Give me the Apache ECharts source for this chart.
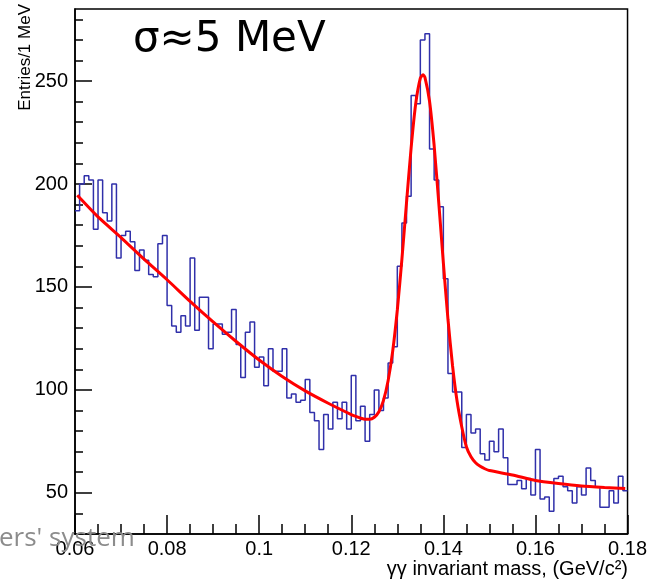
<!DOCTYPE html>
<html>
<head>
<meta charset="utf-8">
<script src="https://cdn.jsdelivr.net/npm/echarts@6/dist/echarts.min.js"></script>
<style>html,body{margin:0;padding:0;background:#fff;}#c{width:650px;height:585px;}</style>
</head>
<body>
<div id="c"></div>
<script>
// ---- data ----
const xMin = 0.06;           // GeV, left edge of first bin
const binWidth = 0.001;      // 1 MeV bins
const counts = [
  187,200,204,202,178,202,186,182,200,164,
  175,177,172,158,168,163,156,155,171,175,
  141,131,128,136,131,164,129,145,145,120,
  132,132,127,128,139,122,106,128,133,111,
  116,102,120,109,109,120, 96, 98, 94, 95,
  105, 89, 85, 71, 88, 81, 94, 86, 94, 81,
  107, 85, 92, 75, 88,100, 90, 96,113,121,
  160,181,194,243,239,270,273,217,202,189,
  154,108, 99, 99, 72, 88, 79, 81, 69, 66,
   75, 70, 81, 67, 54, 54, 56, 52, 57, 49,
   71, 47, 48, 41, 57, 58, 53, 51, 45, 53,
   49, 62, 56, 53, 43, 43, 51, 45, 58, 51
];
// fit curve (red)
const fitMass = [0.0605,0.065,0.07,0.075,0.08,0.085,0.09,0.095,0.1,0.105,0.11,0.115,
  0.12,0.121,0.122,0.123,0.124,0.125,0.126,0.127,0.128,0.129,0.13,0.131,0.132,0.133,0.134,0.135,0.1356,0.136,
  0.137,0.138,0.139,0.14,0.141,0.142,0.143,0.144,0.145,0.146,0.147,0.148,0.149,0.15,
  0.155,0.16,0.165,0.17,0.175,0.1795];
const fitValue = [194.5,184,174,163.5,153.5,143,133,123.5,114.5,106.5,99.5,93.5,
  88,87.1,86.3,85.7,85.7,86.7,89.4,94.9,104.4,118.8,138.8,163.5,190.9,217.6,239.1,251.4,253.1,251.8,
  240.2,218.7,191,161.7,134.3,111.6,94.2,82,72.4,67.5,64.6,62.9,61.7,60.8,
  58.7,56,54.5,53.3,52.6,52.1];
// axis ticks
const xTickValues = [0.06,0.08,0.10,0.12,0.14,0.16,0.18];
const xTickLabels = ['0.06','0.08','0.1','0.12','0.14','0.16','0.18'];
const xMinorValues = [0.065,0.07,0.075,0.085,0.09,0.095,0.105,0.11,0.115,0.125,0.13,0.135,0.145,0.15,0.155,0.165,0.17,0.175];
const yTickValues = [50,100,150,200,250];
const yTickLabels = ['50','100','150','200','250'];
const yMinorValues = [40,60,70,80,90,110,120,130,140,160,170,180,190,210,220,230,240,260,270,280];
const titleText = 'σ≈5 MeV';
const xTitle = 'γγ invariant mass, (GeV/c²)';
const yTitle = 'Entries/1 MeV';
const sideNote = "ers' system";

// ---- build ----
const histData = counts.map((v, i) => [xMin + i * binWidth, v]);
histData.push([xMin + counts.length * binWidth, counts[counts.length - 1]]);
const fitData = fitMass.map((m, i) => [m, fitValue[i]]);

const chart = echarts.init(document.getElementById('c'), null, {renderer: 'canvas'});
const fontFam = 'Liberation Sans, Arial, sans-serif';
const xLabelFmt = v => { const i = xTickValues.findIndex(t => Math.abs(t - v) < 1e-9); return i >= 0 ? xTickLabels[i] : ''; };
const yLabelFmt = v => { const i = yTickValues.findIndex(t => Math.abs(t - v) < 1e-9); return i >= 0 ? yTickLabels[i] : ''; };

chart.setOption({
  animation: false,
  backgroundColor: '#ffffff',
  grid: {left: 75, right: 21, top: 9, bottom: 51, show: true, borderColor: '#000', borderWidth: 1.5, backgroundColor: 'transparent'},
  xAxis: [
    {type: 'value', min: 0.06, max: 0.18, position: 'bottom',
     axisLine: {show: true, lineStyle: {color: '#000', width: 1.5}},
     axisTick: {show: true, inside: true, length: 19, customValues: xTickValues, lineStyle: {color: '#000', width: 1.5}},
     axisLabel: {customValues: xTickValues, formatter: xLabelFmt, color: '#000', fontSize: 20, fontFamily: fontFam, margin: 5, showMinLabel: true, showMaxLabel: true},
     splitLine: {show: false}},
    {type: 'value', min: 0.06, max: 0.18, position: 'bottom',
     axisLine: {show: false},
     axisTick: {show: true, inside: true, length: 10, customValues: xMinorValues, lineStyle: {color: '#000', width: 1.5}},
     axisLabel: {show: false}, splitLine: {show: false}}
  ],
  yAxis: [
    {type: 'value', min: 30, max: 285, position: 'left',
     axisLine: {show: true, lineStyle: {color: '#000', width: 1.5}},
     axisTick: {show: true, inside: true, length: 17, customValues: yTickValues, lineStyle: {color: '#000', width: 1.5}},
     axisLabel: {customValues: yTickValues, formatter: yLabelFmt, color: '#000', fontSize: 20, fontFamily: fontFam, margin: 7},
     splitLine: {show: false}},
    {type: 'value', min: 30, max: 285, position: 'left',
     axisLine: {show: false},
     axisTick: {show: true, inside: true, length: 8, customValues: yMinorValues, lineStyle: {color: '#000', width: 1.5}},
     axisLabel: {show: false}, splitLine: {show: false}}
  ],
  series: [
    {type: 'line', name: 'data', xAxisIndex: 0, yAxisIndex: 0, step: 'end', data: histData,
     symbol: 'none', lineStyle: {color: '#3030aa', width: 1.5}, z: 3},
    {type: 'line', name: 'fit', xAxisIndex: 0, yAxisIndex: 0, data: fitData, smooth: 0.2,
     symbol: 'none', lineStyle: {color: '#ff0000', width: 3}, z: 4}
  ],
  graphic: [
    {type: 'text', left: 133, top: 19, z: 10,
     style: {text: titleText, fontSize: 42, fontFamily: 'DejaVu Sans, sans-serif', fill: '#000'}},
    {type: 'text', x: 17, y: 4, rotation: Math.PI / 2, z: 10,
     style: {text: yTitle, fontSize: 17, fontFamily: fontFam, fill: '#000', align: 'right', verticalAlign: 'top'}},
    {type: 'text', x: 628, y: 559, z: 10,
     style: {text: xTitle, fontSize: 20, fontFamily: fontFam, fill: '#000', align: 'right', verticalAlign: 'top'}},
    {type: 'text', x: -1, y: 526, z: 1,
     style: {text: sideNote, fontSize: 26, fontFamily: 'Open Sans, sans-serif', fill: '#8c8c8c', align: 'left', verticalAlign: 'top'}}
  ]
});
</script>
</body>
</html>
